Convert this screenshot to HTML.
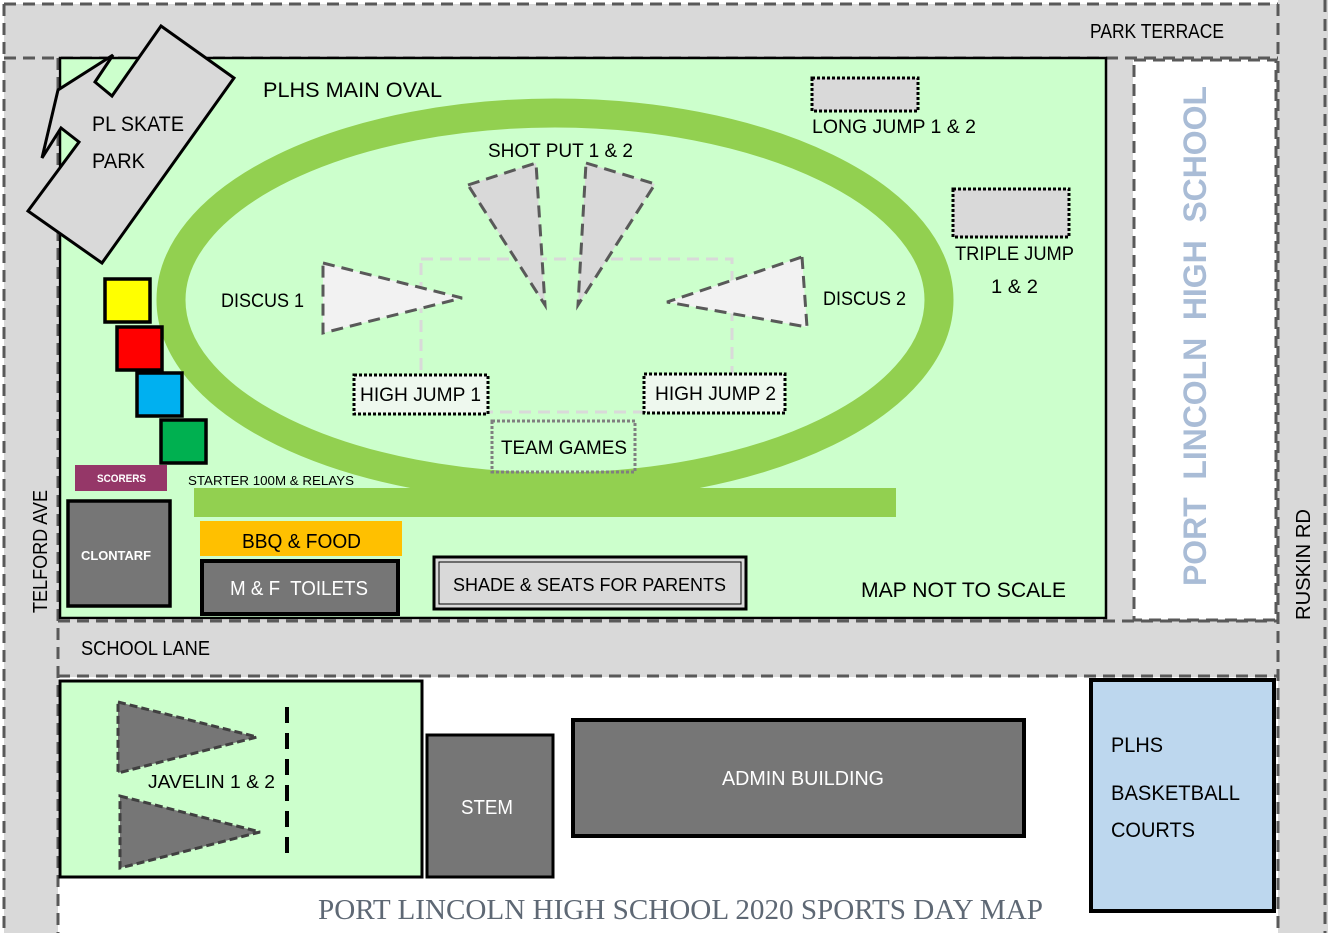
<!DOCTYPE html>
<html><head><meta charset="utf-8"><style>
html,body{margin:0;padding:0;background:#fff;}
svg{display:block;}
text{font-family:"Liberation Sans",sans-serif;}
</style></head><body>
<svg width="1328" height="933" viewBox="0 0 1328 933" xmlns="http://www.w3.org/2000/svg">
<rect width="1328" height="933" fill="#fff"/>
<!-- roads -->
<rect x="4" y="4" width="1274" height="54" fill="#d9d9d9"/>
<rect x="4" y="4" width="54" height="929" fill="#d9d9d9"/>
<rect x="1278" y="0" width="50" height="933" fill="#d9d9d9"/>
<rect x="1106" y="58" width="172" height="562" fill="#d9d9d9"/>
<rect x="1133" y="60" width="143" height="560" fill="#fff"/>
<rect x="58" y="620" width="1220" height="57" fill="#d9d9d9"/>
<g fill="none" stroke="#595959" stroke-width="3" stroke-dasharray="12 7">
<path d="M4 4H1278"/>
<path d="M4 4V933"/>
<path d="M4 58H1278"/>
<path d="M1278 4V933"/>
<path d="M1325 0V933"/>
<path d="M58 58V933"/>
<rect x="1134" y="60" width="142" height="560"/>
<path d="M58 621H1278"/>
<path d="M58 676H1278"/>
</g>
<!-- main oval field -->
<rect x="60" y="58" width="1046" height="560" fill="#ccffcc" stroke="#000" stroke-width="2.5"/>
<!-- skate park -->
<polygon points="28,211 79,142 61,128 42,158 58,90 113,55 95,82 112,96 161,26 234,78 102,263" fill="#d9d9d9" stroke="#000" stroke-width="3" stroke-linejoin="miter"/>
<text x="92" y="131" font-size="21" textLength="92" lengthAdjust="spacingAndGlyphs">PL SKATE</text>
<text x="92" y="168" font-size="21" textLength="53" lengthAdjust="spacingAndGlyphs">PARK</text>
<text x="263" y="97" font-size="21" textLength="179" lengthAdjust="spacingAndGlyphs">PLHS MAIN OVAL</text>
<!-- track -->
<ellipse cx="555" cy="300" rx="384" ry="187" fill="none" stroke="#92d050" stroke-width="29"/>
<rect x="194" y="488" width="702" height="29" fill="#92d050"/>
<!-- light dashed rect -->
<rect x="421" y="259" width="311" height="153" fill="none" stroke="#d9d9d9" stroke-width="3" stroke-dasharray="12 7"/>
<!-- discus / shot put -->
<g stroke="#595959" stroke-width="3" stroke-dasharray="12 7" stroke-linejoin="miter">
<polygon points="323,263 462,298 323,333" fill="#f2f2f2"/>
<polygon points="802,257 807,327 667,302" fill="#f2f2f2"/>
<polygon points="468,185 536,163 545,305" fill="#d9d9d9"/>
<polygon points="586,163 655,184 578,305" fill="#d9d9d9"/>
</g>
<text x="488" y="157" font-size="19" textLength="145" lengthAdjust="spacingAndGlyphs">SHOT PUT 1 &amp; 2</text>
<text x="221" y="307" font-size="19" textLength="83" lengthAdjust="spacingAndGlyphs">DISCUS 1</text>
<text x="823" y="305" font-size="19" textLength="83" lengthAdjust="spacingAndGlyphs">DISCUS 2</text>
<!-- jumps -->
<g stroke="#000" stroke-width="3" stroke-dasharray="3 2">
<rect x="812" y="78" width="106" height="33" fill="#d9d9d9"/>
<rect x="953" y="189" width="116" height="48" fill="#d9d9d9"/>
<rect x="354" y="375" width="134" height="39" fill="#eef8ee"/>
<rect x="644" y="374" width="141" height="39" fill="#eef8ee"/>
</g>
<rect x="492" y="421" width="143" height="51" fill="none" stroke="#7f7f7f" stroke-width="3" stroke-dasharray="3 2"/>
<text x="812" y="133" font-size="19" textLength="164" lengthAdjust="spacingAndGlyphs">LONG JUMP 1 &amp; 2</text>
<text x="955" y="260" font-size="19" textLength="119" lengthAdjust="spacingAndGlyphs">TRIPLE JUMP</text>
<text x="991" y="293" font-size="19" textLength="47" lengthAdjust="spacingAndGlyphs">1 &amp; 2</text>
<text x="360" y="401" font-size="19" textLength="121" lengthAdjust="spacingAndGlyphs">HIGH JUMP 1</text>
<text x="655" y="400" font-size="19" textLength="121" lengthAdjust="spacingAndGlyphs">HIGH JUMP 2</text>
<text x="501" y="454" font-size="19" textLength="126" lengthAdjust="spacingAndGlyphs">TEAM GAMES</text>
<!-- house squares -->
<g stroke="#000" stroke-width="3.5">
<rect x="105" y="279" width="45" height="43" fill="#ffff00"/>
<rect x="117" y="327" width="45" height="43" fill="#ff0000"/>
<rect x="137" y="373" width="45" height="43" fill="#00b0f0"/>
<rect x="161" y="420" width="45" height="43" fill="#00b050"/>
</g>
<rect x="75" y="465" width="92" height="26" fill="#953768"/>
<text x="97" y="482" font-size="11" font-weight="bold" fill="#fff" textLength="49" lengthAdjust="spacingAndGlyphs">SCORERS</text>
<text x="188" y="485" font-size="13" textLength="166" lengthAdjust="spacingAndGlyphs">STARTER 100M &amp; RELAYS</text>
<rect x="68" y="501" width="102" height="105" fill="#767676" stroke="#000" stroke-width="3.5"/>
<text x="81" y="560" font-size="13" font-weight="bold" fill="#fff" textLength="70" lengthAdjust="spacingAndGlyphs">CLONTARF</text>
<rect x="200" y="521" width="202" height="35" fill="#ffc000"/>
<text x="242" y="548" font-size="20" textLength="119" lengthAdjust="spacingAndGlyphs">BBQ &amp; FOOD</text>
<rect x="202" y="561" width="196" height="53" fill="#767676" stroke="#000" stroke-width="4"/>
<text x="230" y="595" font-size="20" fill="#fff" textLength="138" lengthAdjust="spacingAndGlyphs" xml:space="preserve">M &amp; F  TOILETS</text>
<rect x="434" y="557" width="312" height="52" fill="#d9d9d9" stroke="#000" stroke-width="3"/>
<rect x="439" y="562" width="302" height="42" fill="none" stroke="#000" stroke-width="1"/>
<text x="453" y="591" font-size="18" textLength="273" lengthAdjust="spacingAndGlyphs">SHADE &amp; SEATS FOR PARENTS</text>
<text x="861" y="597" font-size="21" textLength="205" lengthAdjust="spacingAndGlyphs">MAP NOT TO SCALE</text>
<!-- road labels -->
<text x="1090" y="38" font-size="20" textLength="134" lengthAdjust="spacingAndGlyphs">PARK TERRACE</text>
<text x="81" y="655" font-size="20" textLength="129" lengthAdjust="spacingAndGlyphs">SCHOOL LANE</text>
<text transform="translate(47,613) rotate(-90)" font-size="20" textLength="123" lengthAdjust="spacingAndGlyphs">TELFORD AVE</text>
<text transform="translate(1310,620) rotate(-90)" font-size="20" textLength="111" lengthAdjust="spacingAndGlyphs">RUSKIN RD</text>
<text transform="translate(1206,586) rotate(-90)" font-size="32" font-weight="bold" fill="#a9bcd6" textLength="500" lengthAdjust="spacing" xml:space="preserve">PORT  LINCOLN  HIGH  SCHOOL</text>
<!-- bottom area -->
<rect x="60" y="681" width="362" height="196" fill="#ccffcc" stroke="#000" stroke-width="3"/>
<g fill="#767676" stroke="#404040" stroke-width="3" stroke-dasharray="8 4">
<polygon points="118,702 257,737 118,773"/>
<polygon points="120,796 260,832 120,868"/>
</g>
<path d="M287 707V860" stroke="#000" stroke-width="4" stroke-dasharray="16 10"/>
<text x="148" y="788" font-size="18" textLength="127" lengthAdjust="spacingAndGlyphs">JAVELIN 1 &amp; 2</text>
<rect x="427" y="735" width="126" height="142" fill="#767676" stroke="#000" stroke-width="3"/>
<text x="461" y="814" font-size="20" fill="#fff" textLength="52" lengthAdjust="spacingAndGlyphs">STEM</text>
<rect x="573" y="720" width="451" height="116" fill="#767676" stroke="#000" stroke-width="4"/>
<text x="722" y="785" font-size="20" fill="#fff" textLength="162" lengthAdjust="spacingAndGlyphs">ADMIN BUILDING</text>
<rect x="1091" y="680" width="183" height="231" fill="#bdd7ee" stroke="#000" stroke-width="4"/>
<text x="1111" y="752" font-size="21" textLength="52" lengthAdjust="spacingAndGlyphs">PLHS</text>
<text x="1111" y="800" font-size="21" textLength="129" lengthAdjust="spacingAndGlyphs">BASKETBALL</text>
<text x="1111" y="837" font-size="21" textLength="84" lengthAdjust="spacingAndGlyphs">COURTS</text>
<text x="318" y="919" font-size="28" fill="#5e6874" style="font-family:'Liberation Serif',serif" textLength="725" lengthAdjust="spacingAndGlyphs">PORT LINCOLN HIGH SCHOOL 2020 SPORTS DAY MAP</text>
</svg>
</body></html>
